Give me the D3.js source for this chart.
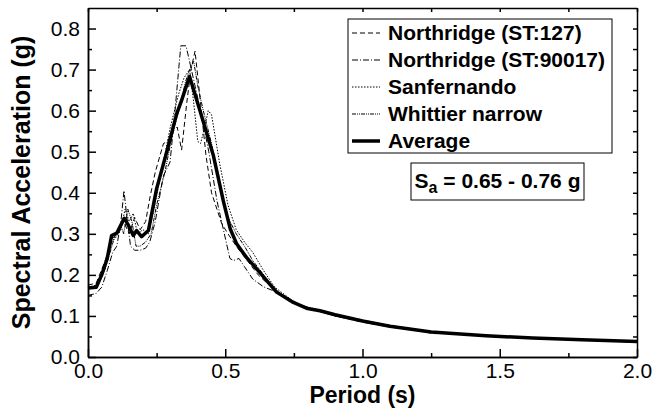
<!DOCTYPE html>
<html>
<head>
<meta charset="utf-8">
<script src="https://cdn.jsdelivr.net/npm/d3@7"></script>
<style>
  body { margin: 0; background: #fff; }
  svg { font-family: "Liberation Sans", Arial, sans-serif; }
  .axis path, .axis line { stroke: #000; stroke-width: 1.5; }
  .axis text { font-size: 21px; fill: #000; font-family: "Liberation Sans", Arial, sans-serif; }
</style>
</head>
<body>
<svg id="chart" width="654" height="412"></svg>
<script>
// spectra: [period (s), Sa (g)]
const northridge127 = [
  [0.00,0.175],[0.03,0.18],[0.06,0.23],[0.09,0.29],[0.11,0.30],[0.13,0.33],[0.15,0.30],[0.17,0.34],
  [0.19,0.31],[0.21,0.33],[0.226,0.39],[0.245,0.45],[0.262,0.49],[0.275,0.52],[0.29,0.525],[0.31,0.55],
  [0.325,0.56],[0.341,0.504],[0.36,0.62],[0.375,0.70],[0.39,0.745],[0.405,0.65],[0.43,0.49],[0.45,0.40],
  [0.487,0.325],[0.51,0.30],[0.54,0.27],[0.58,0.235],[0.62,0.20],[0.66,0.175],[0.70,0.155],[0.75,0.135],
  [0.80,0.118],[0.85,0.11],[0.90,0.10],[1.0,0.085],[1.1,0.073],[1.2,0.064],[1.26,0.057],[1.3,0.058],
  [1.45,0.051],[1.6,0.047],[1.8,0.042],[2.0,0.037]
];
const northridge90017 = [
  [0.00,0.15],[0.03,0.155],[0.05,0.17],[0.07,0.21],[0.09,0.255],[0.105,0.27],[0.12,0.33],[0.131,0.405],
  [0.14,0.35],[0.155,0.27],[0.17,0.26],[0.19,0.26],[0.21,0.265],[0.225,0.28],[0.245,0.33],[0.274,0.44],
  [0.299,0.475],[0.317,0.60],[0.338,0.758],[0.357,0.758],[0.37,0.72],[0.39,0.66],[0.41,0.60],[0.44,0.50],
  [0.47,0.38],[0.50,0.29],[0.517,0.24],[0.53,0.235],[0.55,0.24],[0.57,0.22],[0.60,0.19],[0.639,0.171],
  [0.68,0.16],[0.72,0.145],[0.76,0.13],[0.80,0.12],[0.85,0.11],[0.9,0.10],[1.0,0.087],[1.1,0.074],
  [1.25,0.06],[1.45,0.052],[1.6,0.046],[1.8,0.041],[2.0,0.036]
];
const sanfernando = [
  [0.00,0.17],[0.03,0.175],[0.06,0.22],[0.085,0.28],[0.10,0.29],[0.12,0.31],[0.135,0.36],[0.15,0.33],
  [0.165,0.35],[0.18,0.30],[0.20,0.31],[0.22,0.30],[0.24,0.36],[0.27,0.46],[0.30,0.56],[0.33,0.64],
  [0.35,0.68],[0.37,0.70],[0.385,0.62],[0.40,0.525],[0.41,0.52],[0.425,0.56],[0.438,0.60],[0.45,0.59],
  [0.48,0.47],[0.51,0.37],[0.54,0.31],[0.57,0.28],[0.60,0.255],[0.64,0.21],[0.68,0.17],[0.72,0.15],
  [0.76,0.13],[0.82,0.118],[0.9,0.104],[1.0,0.09],[1.1,0.077],[1.25,0.062],[1.45,0.053],[1.6,0.047],
  [1.8,0.043],[2.0,0.038]
];
const whittier = [
  [0.00,0.17],[0.03,0.17],[0.06,0.21],[0.085,0.265],[0.10,0.30],[0.12,0.32],[0.13,0.30],[0.145,0.36],
  [0.16,0.33],[0.175,0.27],[0.19,0.27],[0.21,0.28],[0.23,0.30],[0.25,0.37],[0.28,0.45],[0.31,0.55],
  [0.335,0.61],[0.355,0.67],[0.37,0.70],[0.385,0.72],[0.40,0.66],[0.42,0.60],[0.45,0.52],[0.48,0.42],
  [0.51,0.34],[0.54,0.30],[0.57,0.27],[0.60,0.235],[0.64,0.20],[0.68,0.165],[0.72,0.145],[0.77,0.128],
  [0.82,0.116],[0.9,0.102],[1.0,0.088],[1.1,0.076],[1.25,0.062],[1.45,0.052],[1.6,0.046],[1.8,0.042],
  [2.0,0.038]
];
const average = [
  [0.00,0.168],[0.03,0.17],[0.05,0.20],[0.07,0.24],[0.086,0.296],[0.105,0.302],[0.132,0.338],[0.147,0.321],
  [0.165,0.296],[0.177,0.308],[0.195,0.293],[0.22,0.308],[0.25,0.41],[0.287,0.50],[0.323,0.592],[0.341,0.625],
  [0.37,0.683],[0.408,0.60],[0.457,0.49],[0.493,0.38],[0.518,0.3125],[0.542,0.275],[0.578,0.242],[0.627,0.205],
  [0.687,0.158],[0.748,0.133],[0.80,0.118],[0.845,0.1125],[0.90,0.103],[1.0,0.0875],[1.1,0.075],[1.25,0.061],
  [1.45,0.052],[1.62,0.046],[1.8,0.042],[2.0,0.0375]
];

const seriesNames = ['Northridge (ST:127)', 'Northridge (ST:90017)', 'Sanfernando', 'Whittier narrow', 'Average'];
const seriesData = [northridge127, northridge90017, sanfernando, whittier, average];
const dashStyles = ['5,3', '6,2,1,2', '1.5,1.5', '4,1,1,1,1,1', null];
const lineWidths = [1, 1, 1, 1, 3.5];

const xMajor = [0, 0.5, 1.0, 1.5, 2.0];
const xMinor = [0.25, 0.75, 1.25, 1.75];
const yMajor = [0, 0.1, 0.2, 0.3, 0.4, 0.5, 0.6, 0.7, 0.8];
const yMinor = [0.05, 0.15, 0.25, 0.35, 0.45, 0.55, 0.65, 0.75];

const margin = { top: 8, right: 17, bottom: 55, left: 88 };
const svg = d3.select('#chart');
const width = 654 - margin.left - margin.right;
const height = 412 - margin.top - margin.bottom;

const g = svg.append('g')
  .attr('transform', 'translate(' + margin.left + ',' + margin.top + ')');

const x = d3.scaleLinear().domain([0, 2]).range([0, width]);
const y = d3.scaleLinear().domain([0, 0.85]).range([height, 0]);
const fmt = d3.format('.1f');

// curves first, frame on top
const line = d3.line()
  .x(d => x(d[0]))
  .y(d => y(d[1]));

seriesData.forEach((data, i) => {
  g.append('path')
    .attr('d', line(data))
    .attr('fill', 'none')
    .attr('stroke', '#000')
    .attr('stroke-width', lineWidths[i])
    .attr('stroke-linejoin', 'round')
    .attr('stroke-dasharray', dashStyles[i]);
});

// axes, ticks pointing inward on all four sides
g.append('g').attr('class', 'axis')
  .attr('transform', 'translate(0,' + height + ')')
  .call(d3.axisBottom(x).tickValues(xMajor).tickSizeInner(-8).tickSizeOuter(0).tickPadding(6).tickFormat(fmt));
g.append('g').attr('class', 'axis')
  .attr('transform', 'translate(0,' + height + ')')
  .call(d3.axisBottom(x).tickValues(xMinor).tickSizeInner(-4).tickSizeOuter(0).tickFormat(''));
g.append('g').attr('class', 'axis')
  .call(d3.axisTop(x).tickValues(xMajor.concat(xMinor)).tickSizeInner(-4).tickSizeOuter(0).tickFormat(''));

g.append('g').attr('class', 'axis')
  .call(d3.axisLeft(y).tickValues(yMajor).tickSizeInner(-8).tickSizeOuter(0).tickPadding(8).tickFormat(fmt));
g.append('g').attr('class', 'axis')
  .call(d3.axisLeft(y).tickValues(yMinor).tickSizeInner(-4).tickSizeOuter(0).tickFormat(''));
g.append('g').attr('class', 'axis')
  .attr('transform', 'translate(' + width + ',0)')
  .call(d3.axisRight(y).tickValues(yMajor.concat(yMinor)).tickSizeInner(-4).tickSizeOuter(0).tickFormat(''));

// axis titles
svg.append('text')
  .attr('x', margin.left + width / 2)
  .attr('y', 403)
  .attr('text-anchor', 'middle')
  .style('font-size', '23px')
  .style('font-weight', 'bold')
  .text('Period (s)');

svg.append('text')
  .attr('transform', 'translate(30,' + (margin.top + height / 2) + ') rotate(-90)')
  .attr('text-anchor', 'middle')
  .style('font-size', '25px')
  .style('font-weight', 'bold')
  .text('Spectral Acceleration (g)');

// legend
const legend = svg.append('g').attr('transform', 'translate(348,19)');
const rowHeight = 27;
legend.append('rect')
  .attr('width', 264)
  .attr('height', 134)
  .attr('fill', '#fff')
  .attr('stroke', '#000')
  .attr('stroke-width', 1);

seriesNames.forEach((name, i) => {
  const cy = 14 + i * rowHeight;
  legend.append('line')
    .attr('x1', 4).attr('x2', 32)
    .attr('y1', cy).attr('y2', cy)
    .attr('stroke', '#000')
    .attr('stroke-width', lineWidths[i])
    .attr('stroke-dasharray', dashStyles[i]);
  legend.append('text')
    .attr('x', 40)
    .attr('y', cy + 7)
    .style('font-size', '21px')
    .style('font-weight', 'bold')
    .text(name);
});

// Sa range box
const saBox = svg.append('g').attr('transform', 'translate(411,163)');
saBox.append('rect')
  .attr('width', 173)
  .attr('height', 37)
  .attr('fill', '#fff')
  .attr('stroke', '#000')
  .attr('stroke-width', 1);
const saText = saBox.append('text')
  .attr('x', 86.5)
  .attr('y', 25)
  .attr('text-anchor', 'middle')
  .style('font-size', '21px')
  .style('font-weight', 'bold');
saText.append('tspan').text('S');
saText.append('tspan').attr('dy', 5).style('font-size', '16px').text('a');
saText.append('tspan').attr('dy', -5).text(' = 0.65 - 0.76 g');
</script>
</body>
</html>
